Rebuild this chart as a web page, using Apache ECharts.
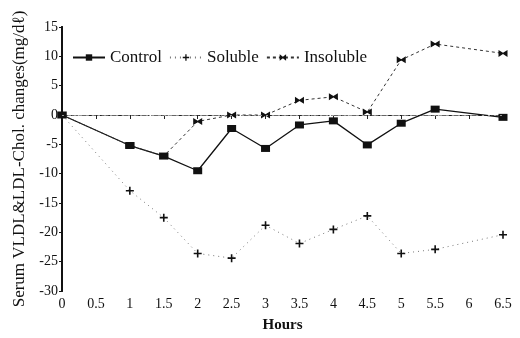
<!DOCTYPE html>
<html>
<head>
<meta charset="utf-8">
<script src="https://cdn.jsdelivr.net/npm/echarts@6/dist/echarts.min.js"></script>
<style>
  html, body {margin: 0; padding: 0; background: #fff;}
  #chart {width: 520px; height: 338px;}
</style>
</head>
<body>
<div id="chart"></div>
<script>
const hours = [0, 1, 1.5, 2, 2.5, 3, 3.5, 4, 4.5, 5, 5.5, 6.5]
const control = [0, -5.2, -7.0, -9.5, -2.3, -5.7, -1.7, -1.0, -5.1, -1.4, 1.0, -0.4]
const soluble = [0, -12.9, -17.5, -23.6, -24.4, -18.8, -21.9, -19.5, -17.2, -23.6, -22.9, -20.4]
const insoluble = [0, -5.2, -7.0, -1.1, 0, 0, 2.5, 3.1, 0.5, 9.4, 12.1, 10.5]
const xTicks = ['0', '0.5', '1', '1.5', '2', '2.5', '3', '3.5', '4', '4.5', '5', '5.5', '6', '6.5']

const font = 'Liberation Serif'
const pair = (ys) => hours.map((h, i) => [h, ys[i]])

const plusPath = 'path://M4,0L6,0L6,4L10,4L10,6L6,6L6,10L4,10L4,6L0,6L0,4L4,4Z'
const bowPath = 'path://M0,0L5,4L10,0L10,10L5,6L0,10Z'

let myChart = echarts.init(document.getElementById('chart'))
myChart.setOption({
    animation: false,
    grid: {left: 62, right: 17, top: 27, bottom: 45},
    legend: {
        left: 67, top: 44,
        itemGap: 7,
        itemWidth: 32,
        itemHeight: 8,
        textStyle: {fontFamily: font, fontSize: 17, color: '#111'},
        data: ['Control', 'Soluble', 'Insoluble']
    },
    xAxis: [{
        type: 'value',
        min: 0, max: 6.5, interval: 0.5,
        name: 'Hours',
        nameLocation: 'middle',
        nameGap: 27,
        nameTextStyle: {fontFamily: font, fontSize: 15, fontWeight: 'bold', color: '#111'},
        axisLine: {lineStyle: {color: '#222', width: 1.2, type: [6, 3]}},
        axisTick: {length: 4, lineStyle: {color: '#222'}},
        axisLabel: {fontFamily: font, fontSize: 14, color: '#111', margin: 6,
            formatter: (v) => xTicks[Math.round(v * 2)]},
        splitLine: {show: false}
    }, {
        type: 'value', position: 'top',
        min: 0, max: 6.5,
        axisLine: {show: true, lineStyle: {color: '#666', type: [6, 4]}},
        axisTick: {show: false}, axisLabel: {show: false}, splitLine: {show: false}
    }],
    yAxis: [{
        type: 'value',
        min: -30, max: 15, interval: 5,
        name: 'Serum VLDL&LDL-Chol. changes(mg/dℓ)',
        nameLocation: 'middle',
        nameGap: 32,
        nameTextStyle: {fontFamily: font, fontSize: 17, color: '#111'},
        axisLine: {lineStyle: {color: '#111', width: 2}},
        axisTick: {length: 3, lineStyle: {color: '#111'}},
        axisLabel: {fontFamily: font, fontSize: 14, color: '#111', margin: 4},
        splitLine: {show: false}
    }, {
        type: 'value', position: 'right',
        min: -30, max: 15, interval: 5,
        axisLine: {show: true, lineStyle: {color: '#111', width: 2}},
        axisTick: {show: false}, axisLabel: {show: false}, splitLine: {show: false}
    }],
    series: [
        {
            name: 'Control',
            type: 'line',
            data: pair(control),
            symbol: 'rect',
            symbolSize: [9, 7],
            itemStyle: {color: '#111'},
            lineStyle: {color: '#111', width: 1.3},
            markLine: {
                silent: true,
                symbol: 'none',
                label: {show: false},
                lineStyle: {color: '#999', type: [2, 4], width: 1},
                data: [{yAxis: 0}]
            }
        },
        {
            name: 'Soluble',
            type: 'line',
            data: pair(soluble),
            symbol: plusPath,
            symbolSize: 8,
            itemStyle: {color: '#111'},
            lineStyle: {color: '#777', width: 1, type: [1, 4]}
        },
        {
            name: 'Insoluble',
            type: 'line',
            data: pair(insoluble),
            symbol: bowPath,
            symbolSize: [9, 7],
            itemStyle: {color: '#111'},
            lineStyle: {color: '#333', width: 1, type: [3, 3]}
        }
    ]
})
</script>
</body>
</html>
